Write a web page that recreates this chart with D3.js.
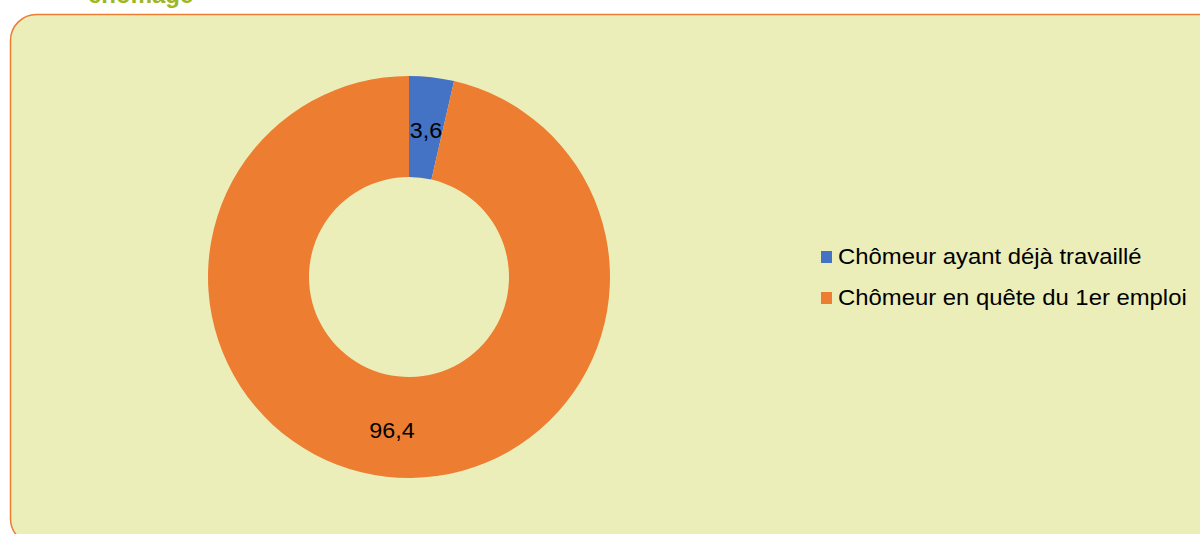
<!DOCTYPE html>
<html><head><meta charset="utf-8">
<script src="https://cdn.jsdelivr.net/npm/d3@7"></script>
<style>body{margin:0;background:#fff;}svg{display:block;}</style>
</head><body>
<svg id="c" width="1200" height="534"></svg>
<script>
const categories = ["Chômeur ayant déjà travaillé", "Chômeur en quête du 1er emploi"];
const values = [3.6, 96.4];
const labels = ["3,6", "96,4"];
const colors = ["#4472C4", "#ED7D31"];
const titleText = "chômage";

const svg = d3.select("#c");
svg.append("rect").attr("x",10.5).attr("y",14.5).attr("width",1215).attr("height",530)
  .attr("rx",26).attr("ry",26).attr("fill","#ECEEB9").attr("stroke","#ED7D31").attr("stroke-width",1.5);

svg.append("text").attr("x",88).attr("y",3).attr("font-family","Liberation Sans, Arial, sans-serif")
  .attr("font-weight","bold").attr("font-size",24).attr("fill","#9DB71F").text(titleText);

const cx=409, cy=277, ro=201, ri=100;
const pie = d3.pie().sort(null).value(d=>d)(values);
const arc = d3.arc().innerRadius(ri).outerRadius(ro);
const g = svg.append("g").attr("transform",`translate(${cx},${cy})`);
g.selectAll("path").data(pie).join("path").attr("d",arc).attr("fill",(d,i)=>colors[i]);
g.selectAll("text").data(pie).join("text")
  .attr("transform",(d,i)=>{const c=arc.centroid(d);return `translate(${c[0]},${c[1]+(i?4:3)}) scale(1.085,1)`;})
  .attr("text-anchor","middle").attr("dy","0.35em")
  .attr("font-family","Liberation Sans, Arial, sans-serif").attr("font-size",21.5).attr("fill","#000")
  .text((d,i)=>labels[i]);

const lg = svg.append("g");
categories.forEach((c,i)=>{
  const base = 264 + i*41;
  lg.append("rect").attr("x",821).attr("y",base-13).attr("width",11).attr("height",12).attr("fill",colors[i]);
  lg.append("text").attr("transform",`translate(838,${base}) scale(1.085,1)`)
    .attr("font-family","Liberation Sans, Arial, sans-serif").attr("font-size",22).attr("fill","#000").text(c);
});
</script>
</body></html>
